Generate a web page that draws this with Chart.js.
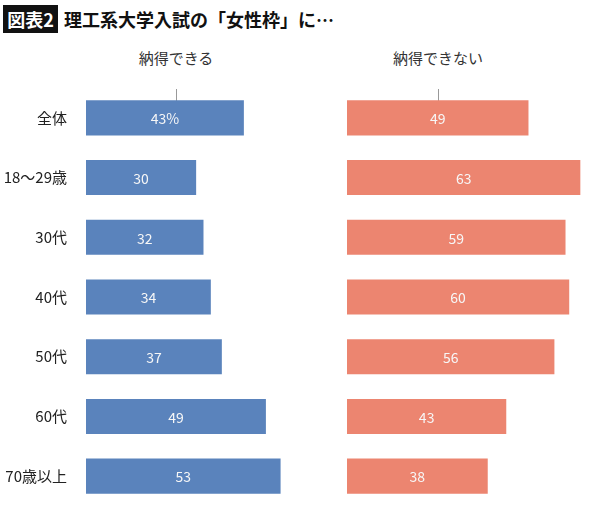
<!DOCTYPE html>
<html>
<head>
<meta charset="utf-8">
<script src="https://cdn.jsdelivr.net/npm/chart.js@4"></script>
<style>
  body { margin: 0; background: #fff; width: 600px; height: 507px; overflow: hidden; position: relative;
         font-family: "Noto Sans CJK JP", "Noto Sans", sans-serif; }
  #badge { position: absolute; left: 3px; top: 5px; width: 55px; height: 28px; background: #111; color: #fff;
           font-weight: bold; font-size: 18px; line-height: 28px; text-align: center; }
  #title { position: absolute; left: 64px; top: 5px; font-weight: bold; font-size: 18px; line-height: 28px; color: #111; }
  .head { position: absolute; top: 47px; width: 200px; text-align: center; font-size: 15px; color: #333; }
  .tick { position: absolute; top: 89px; width: 1px; height: 12px; background: #999; }
  canvas { position: absolute; top: 0; }
</style>
</head>
<body>
<div id="badge">図表2</div>
<div id="title">理工系大学入試の「女性枠」に…</div>
<div class="head" style="left:76px">納得できる</div>
<div class="head" style="left:338px">納得できない</div>
<div class="tick" style="left:176px"></div>
<div class="tick" style="left:438px"></div>
<canvas id="leftChart" style="left:0"></canvas>
<canvas id="rightChart" style="left:347px"></canvas>
<script>
// 回答者区分
const categories = ['全体', '18〜29歳', '30代', '40代', '50代', '60代', '70歳以上'];
// 納得できる (%)
const agreeValues = [43, 30, 32, 34, 37, 49, 53];
// 納得できない (%)
const disagreeValues = [49, 63, 59, 60, 56, 43, 38];
// バー内のラベル
const agreeLabels = ['43%', '30', '32', '34', '37', '49', '53'];
const disagreeLabels = ['49', '63', '59', '60', '56', '43', '38'];

// バーの中央に値を描くプラグイン
const barText = {
    id: 'barText',
    afterDatasetsDraw(chart) {
        const ctx = chart.ctx;
        const texts = chart.options.plugins.barText.texts;
        const meta = chart.getDatasetMeta(0);
        ctx.save();
        ctx.fillStyle = '#f7f7f7';
        ctx.font = '14px "Noto Sans CJK JP", "Noto Sans", sans-serif';
        ctx.textAlign = 'center';
        ctx.textBaseline = 'middle';
        meta.data.forEach((bar, i) => {
            ctx.fillText(texts[i], (bar.base + bar.x) / 2, bar.y + 1);
        });
        ctx.restore();
    }
};

function makeChart(id, width, values, texts, color, max, showLabels) {
    const canvas = document.getElementById(id);
    // ラベル付きの方は下に余白が取られるので高くして、bodyで切り取る
    const h = showLabels ? 526 : 507;
    canvas.width = width;
    canvas.height = h;
    canvas.style.width = width + 'px';
    canvas.style.height = h + 'px';
    const yAxis = {
        display: showLabels,
        grid: { display: false },
        border: { display: false },
        ticks: {
            color: '#222',
            padding: 11,
            font: { size: 15, family: '"Noto Sans CJK JP", "Noto Sans", sans-serif' }
        }
    };
    if (showLabels) {
        yAxis.afterFit = (scale) => { scale.width = 86; };
    }
    return new Chart(canvas.getContext('2d'), {
        type: 'bar',
        data: {
            labels: categories,
            datasets: [{
                data: values,
                backgroundColor: color,
                categoryPercentage: 1,
                barPercentage: 0.587
            }]
        },
        options: {
            indexAxis: 'y',
            responsive: false,
            maintainAspectRatio: false,
            animation: false,
            layout: { padding: { top: 88, bottom: 1, left: 0, right: 0 } },
            scales: {
                x: { display: false, min: 0, max: max },
                y: yAxis
            },
            plugins: {
                legend: { display: false },
                tooltip: { enabled: false },
                barText: { texts: texts }
            }
        },
        plugins: [barText]
    });
}

makeChart('leftChart', 343, agreeValues, agreeLabels, '#5A83BC', 70, true);
makeChart('rightChart', 250, disagreeValues, disagreeLabels, '#EC8570', 67.5, false);
</script>
</body>
</html>
